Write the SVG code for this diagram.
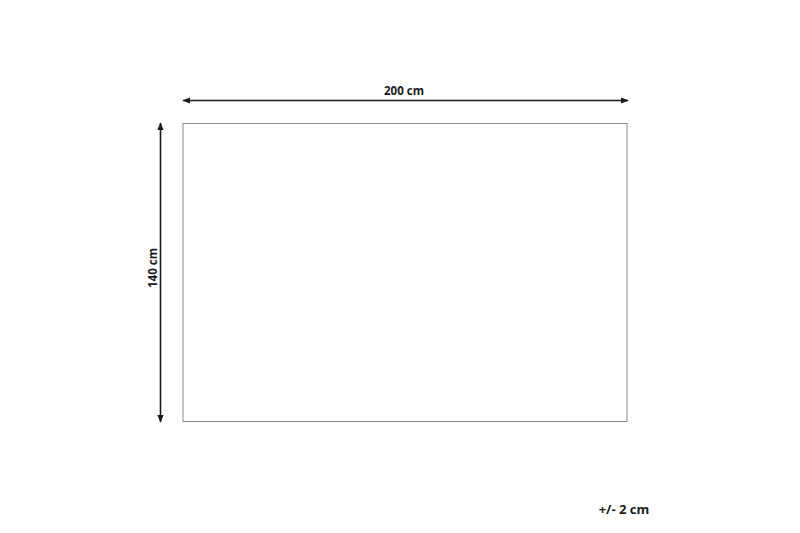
<svg xmlns="http://www.w3.org/2000/svg" width="800" height="533" viewBox="0 0 800 533">
<defs>
<marker id="ah" viewBox="0 0 10 10" refX="9" refY="5" markerWidth="8" markerHeight="8" markerUnits="userSpaceOnUse" orient="auto-start-reverse">
<path d="M0,1 L10,5 L0,9 Z" fill="#1a1a1a"/>
</marker>
</defs>
<style>
.t{font-family:"Open Sans","Liberation Sans",sans-serif;font-weight:bold;fill:#1a1a1a}
.dim{stroke:#1a1a1a;stroke-width:1.6;fill:none}
</style>
<rect width="800" height="533" fill="#fff"/>
<g id="rug"><rect x="183" y="123.5" width="444" height="298" fill="#fff" stroke="#8a8a8a" stroke-width="1"/></g>
<g id="connectors">
<line class="dim" x1="183" y1="100.5" x2="628" y2="100.5" marker-start="url(#ah)" marker-end="url(#ah)"/>
<line class="dim" x1="160.5" y1="123" x2="160.5" y2="422" marker-start="url(#ah)" marker-end="url(#ah)"/>
</g>
<g id="labels">
<text class="t" x="404" y="95" font-size="11.5" text-anchor="middle">200 cm</text>
<text class="t" x="0" y="0" font-size="11.5" text-anchor="middle" transform="translate(157,268) rotate(-90)">140 cm</text>
<text class="t" x="624" y="514" font-size="13" text-anchor="middle">+/- 2 cm</text>
</g>
</svg>
